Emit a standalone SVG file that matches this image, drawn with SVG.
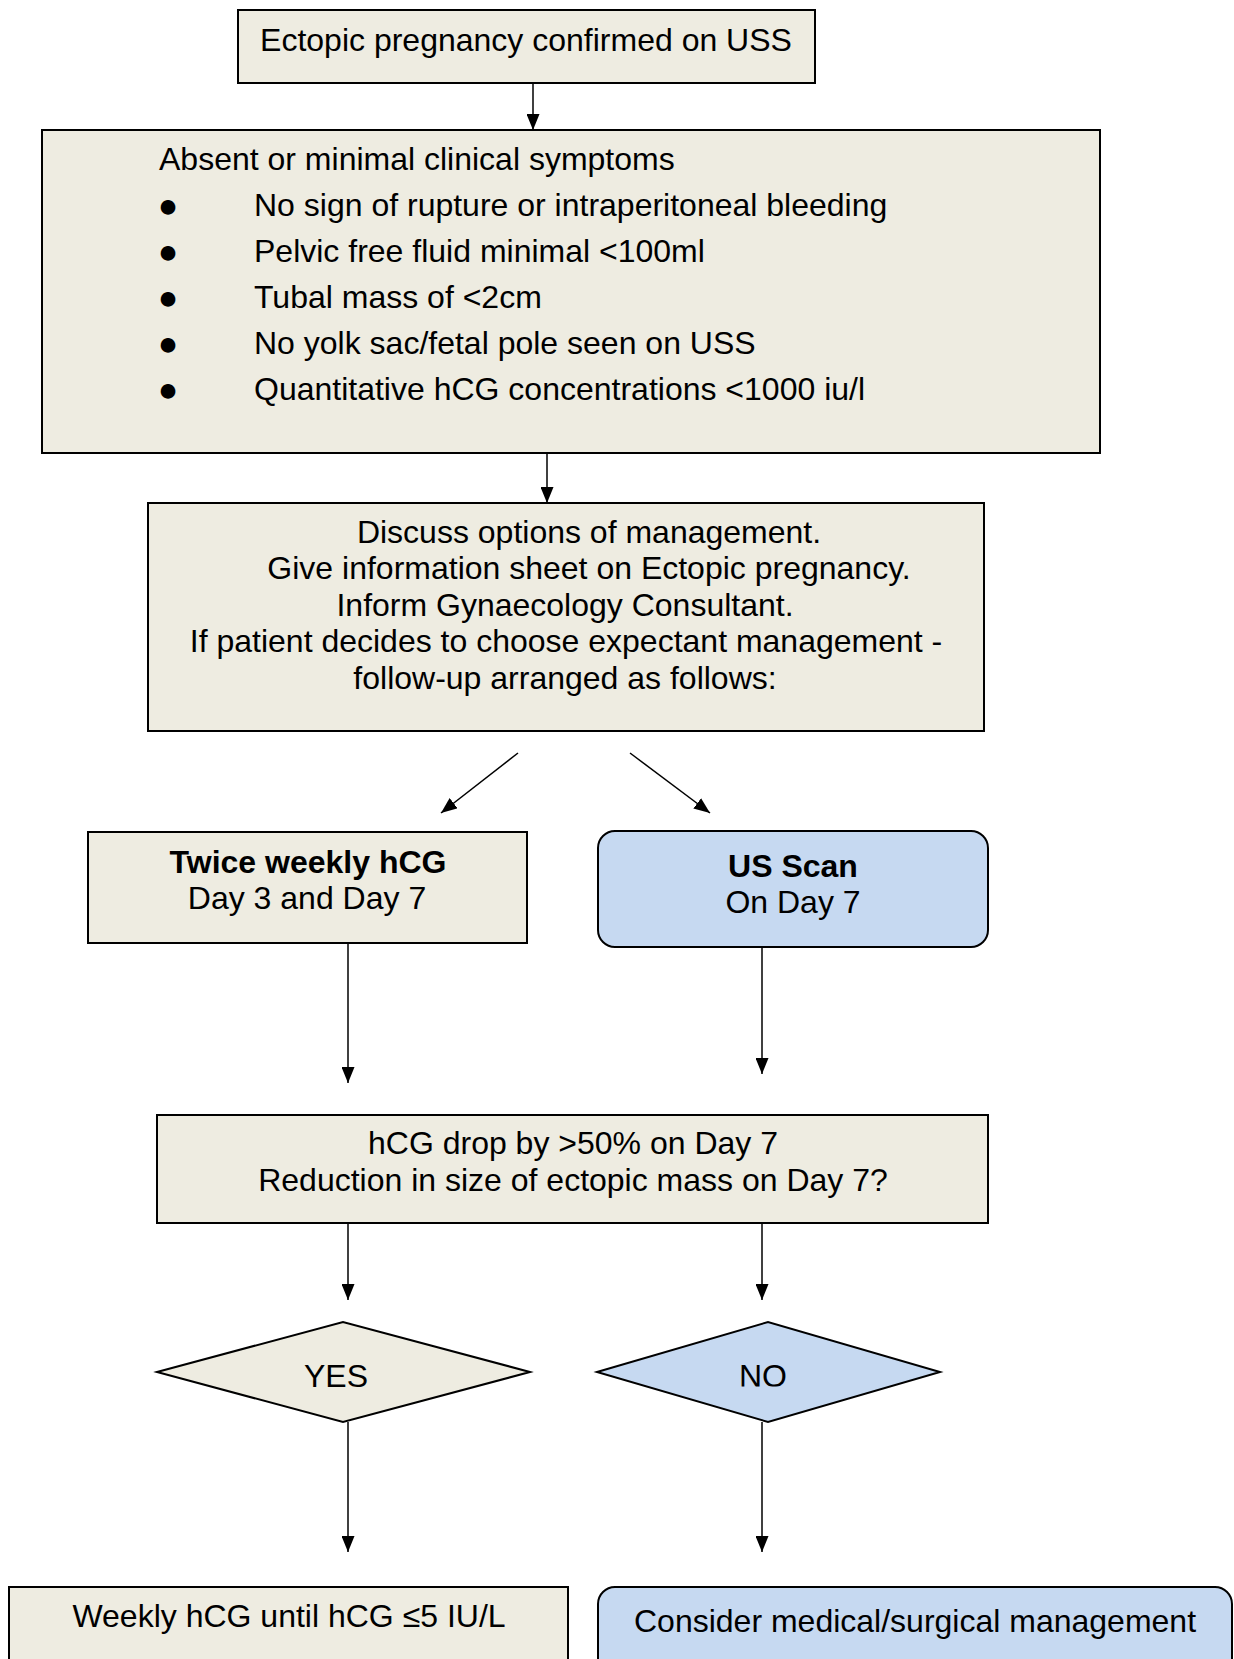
<svg xmlns="http://www.w3.org/2000/svg" width="1234" height="1659" viewBox="0 0 1234 1659">
<defs>
<style>
text{font-family:"Liberation Sans",Arial,sans-serif;font-size:32px;fill:#000}
.c{text-anchor:middle}
.b{font-weight:bold}
.beige{fill:#EEECE1;stroke:#000;stroke-width:2}
.blue{fill:#C6D9F1;stroke:#000;stroke-width:2}
.conn line{stroke:#000;stroke-width:1.5;marker-end:url(#ah)}
.bul{font-size:34px}
</style>
<marker id="ah" viewBox="0 0 16 13" refX="16" refY="6.5" markerWidth="16" markerHeight="13" markerUnits="userSpaceOnUse" orient="auto">
<path d="M0,0 L16,6.5 L0,13 Z" fill="#000"/>
</marker>
<clipPath id="noclip"><rect x="590" y="1310" width="360" height="76.5"/></clipPath>
</defs>
<rect width="1234" height="1659" fill="#fff"/>
<g id="confirmed">
<rect class="beige" x="238" y="10" width="577" height="73"/>
<text class="c" x="526" y="51">Ectopic pregnancy confirmed on USS</text>
</g>
<g id="criteria">
<rect class="beige" x="42" y="130" width="1058" height="323"/>
<text x="159" y="170">Absent or minimal clinical symptoms</text>
<text class="bul c" x="168" y="217">●</text>
<text x="254" y="216">No sign of rupture or intraperitoneal bleeding</text>
<text class="bul c" x="168" y="263">●</text>
<text x="254" y="262">Pelvic free fluid minimal &lt;100ml</text>
<text class="bul c" x="168" y="309">●</text>
<text x="254" y="308">Tubal mass of &lt;2cm</text>
<text class="bul c" x="168" y="355">●</text>
<text x="254" y="354">No yolk sac/fetal pole seen on USS</text>
<text class="bul c" x="168" y="401">●</text>
<text x="254" y="400">Quantitative hCG concentrations &lt;1000 iu/l</text>
</g>
<g id="discuss">
<rect class="beige" x="148" y="503" width="836" height="228"/>
<text class="c" x="589" y="543">Discuss options of management.</text>
<text class="c" x="589" y="579">Give information sheet on Ectopic pregnancy.</text>
<text class="c" x="565" y="616">Inform Gynaecology Consultant.</text>
<text class="c" x="566" y="652">If patient decides to choose expectant management -</text>
<text class="c" x="565" y="689">follow-up arranged as follows:</text>
</g>
<g id="hcg">
<rect class="beige" x="88" y="832" width="439" height="111"/>
<text class="c b" x="308" y="873">Twice weekly hCG</text>
<text class="c" x="307" y="909">Day 3 and Day 7</text>
</g>
<g id="usscan">
<rect class="blue" x="598" y="831" width="390" height="116" rx="17" ry="17"/>
<text class="c b" x="793" y="877">US Scan</text>
<text class="c" x="793" y="913">On Day 7</text>
</g>
<g id="drop">
<rect class="beige" x="157" y="1115" width="831" height="108"/>
<text class="c" x="573" y="1154">hCG drop by &gt;50% on Day 7</text>
<text class="c" x="573" y="1191">Reduction in size of ectopic mass on Day 7?</text>
</g>
<g id="yes">
<polygon class="beige" points="157,1372 343,1322 530,1372 343,1422"/>
<text class="c" x="336" y="1387">YES</text>
</g>
<g id="no">
<polygon class="blue" points="597,1372 768,1322 940,1372 768,1422"/>
<text class="c" x="763" y="1387" clip-path="url(#noclip)">NO</text>
</g>
<g id="weekly">
<rect class="beige" x="9" y="1587" width="559" height="100"/>
<text class="c" x="289" y="1627">Weekly hCG until hCG ≤5 IU/L</text>
</g>
<g id="consider">
<rect class="blue" x="598" y="1587" width="634" height="100" rx="17" ry="17"/>
<text class="c" x="915" y="1632">Consider medical/surgical management</text>
</g>
<g id="connectors" class="conn">
<line x1="533" y1="83" x2="533" y2="130"/>
<line x1="547" y1="453" x2="547" y2="503"/>
<line x1="518" y1="753" x2="441" y2="813"/>
<line x1="630" y1="753" x2="710" y2="813"/>
<line x1="348" y1="943" x2="348" y2="1083"/>
<line x1="762" y1="947" x2="762" y2="1074"/>
<line x1="348" y1="1223" x2="348" y2="1300"/>
<line x1="762" y1="1223" x2="762" y2="1300"/>
<line x1="348" y1="1422" x2="348" y2="1552"/>
<line x1="762" y1="1422" x2="762" y2="1552"/>
</g>
</svg>
